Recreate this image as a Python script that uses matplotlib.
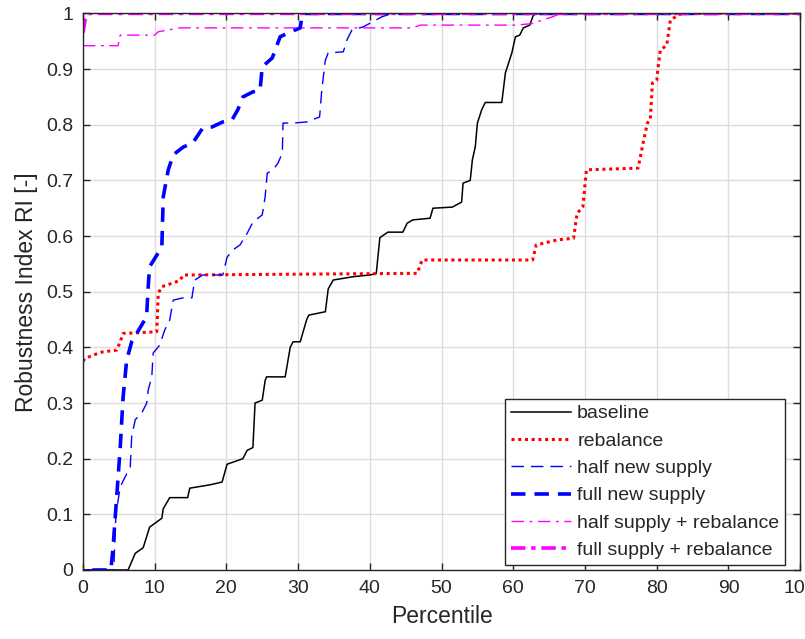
import matplotlib.pyplot as plt

plt.rcParams['font.family'] = ['Liberation Sans', 'DejaVu Sans']

# percentile / robustness index pairs for each scenario
baseline_x = [0, 6.3, 7.3, 8.4, 9.3, 11.0, 11.2, 12.1, 14.6, 14.9, 17.7, 19.4, 20.1, 22.3, 22.9,
              23.7, 24.0, 25.0, 25.4, 25.6, 28.2, 28.9, 29.3, 30.3, 31.2, 31.5, 33.8, 34.2, 34.9,
              37.7, 40.0, 40.9, 41.4, 42.5, 44.6, 45.2, 46.0, 48.4, 48.8, 51.5, 52.8, 53.0, 54.0,
              54.3, 54.7, 55.0, 55.6, 56.1, 58.4, 58.9, 59.8, 60.3, 60.9, 61.4, 62.3, 62.8, 63.5, 100]
baseline_y = [0, 0, 0.03, 0.04, 0.077, 0.093, 0.11, 0.13, 0.13, 0.147, 0.153, 0.158, 0.19, 0.2, 0.215,
              0.22, 0.30, 0.305, 0.34, 0.347, 0.347, 0.40, 0.41, 0.41, 0.45, 0.458, 0.464, 0.505, 0.521,
              0.527, 0.53, 0.533, 0.597, 0.607, 0.607, 0.623, 0.629, 0.632, 0.65, 0.652, 0.661, 0.695, 0.70,
              0.737, 0.76, 0.803, 0.827, 0.84, 0.84, 0.893, 0.929, 0.958, 0.961, 0.974, 0.979, 0.997, 1.0, 1.0]

rebalance_x = [0, 0.3, 1.4, 2.8, 4.7, 5.2, 5.6, 10.3, 10.5, 11.0, 12.4, 13.5, 14.0, 46.6, 47.3,
               62.7, 63.2, 66.1, 68.4, 68.9, 69.7, 70.2, 77.4, 78.1, 78.7, 79.1, 79.4, 80.0, 80.2,
               80.5, 81.4, 81.9, 83.0, 83.5, 100]
rebalance_y = [0.375, 0.38, 0.386, 0.392, 0.395, 0.41, 0.425, 0.428, 0.497, 0.509, 0.515, 0.52, 0.53, 0.533, 0.557,
               0.557, 0.584, 0.593, 0.596, 0.641, 0.652, 0.719, 0.722, 0.767, 0.803, 0.809, 0.875, 0.88, 0.904,
               0.934, 0.943, 0.988, 0.997, 1.0, 1.0]

half_supply_x = [0, 4.3, 4.6, 5.2, 5.6, 6.6, 6.8, 7.3, 8.2, 8.9, 9.1, 9.6, 9.8, 10.7, 11.4, 12.1,
                 12.6, 14.0, 15.2, 15.3, 15.6, 16.7, 19.5, 20.1, 20.9, 21.9, 22.9, 23.7, 25.0, 25.4,
                 25.7, 26.5, 27.2, 27.8, 27.9, 29.3, 31.2, 33.0, 33.3, 33.8, 34.2, 36.3, 36.8, 37.5,
                 39.1, 41.7, 43.1, 100]
half_supply_y = [0, 0, 0.1, 0.149, 0.16, 0.185, 0.24, 0.27, 0.282, 0.3, 0.323, 0.347, 0.39, 0.404, 0.431, 0.449,
                 0.485, 0.489, 0.489, 0.498, 0.521, 0.53, 0.53, 0.562, 0.575, 0.584, 0.605, 0.625, 0.638, 0.67,
                 0.713, 0.719, 0.731, 0.749, 0.803, 0.803, 0.805, 0.814, 0.862, 0.916, 0.929, 0.931, 0.952, 0.97,
                 0.976, 0.994, 1.0, 1.0]

full_supply_x = [1.3, 3.9, 4.2, 4.7, 5.2, 5.6, 6.1, 6.8, 7.5, 8.6, 8.9, 9.1, 9.3, 11.0, 11.2, 11.9,
                 12.6, 14.0, 15.3, 16.7, 18.0, 19.5, 20.8, 21.6, 22.3, 23.7, 24.7, 25.0, 26.4, 26.8,
                 27.5, 28.6, 30.3, 30.5, 30.7, 100]
full_supply_y = [0, 0, 0.04, 0.13, 0.22, 0.31, 0.377, 0.41, 0.425, 0.449, 0.46, 0.509, 0.545, 0.58, 0.67, 0.719,
                 0.746, 0.76, 0.767, 0.794, 0.796, 0.805, 0.809, 0.827, 0.85, 0.859, 0.862, 0.904, 0.92, 0.934,
                 0.958, 0.965, 0.974, 0.992, 1.0, 1.0]

half_reb_x = [0, 4.9, 5.2, 10.0, 10.5, 13.5, 46.0, 47.0, 60.5, 62.8, 64.0, 65.5, 66.6, 100]
half_reb_y = [0.942, 0.942, 0.961, 0.961, 0.967, 0.974, 0.974, 0.979, 0.979, 0.982, 0.988, 0.994, 1.0, 1.0]

full_reb_x = [0, 0.3, 0.7, 100]
full_reb_y = [0.965, 0.988, 1.0, 1.0]

labels = ['baseline', 'rebalance', 'half new supply', 'full new supply',
          'half supply + rebalance', 'full supply + rebalance']

fig = plt.figure(figsize=(8.05, 6.39), dpi=100)
ax = fig.add_axes([0.103, 0.108, 0.891, 0.871])

ax.plot(baseline_x, baseline_y, color='black', lw=1.1, ls='-', label=labels[0])
ax.plot(rebalance_x, rebalance_y, color='red', lw=2.2, ls=(0, (1, 1.2)), label=labels[1])
ax.plot(half_supply_x, half_supply_y, color='blue', lw=1.0, ls=(0, (9, 5)), label=labels[2])
ax.plot(full_supply_x, full_supply_y, color='blue', lw=2.6, ls=(0, (4, 2.5)), label=labels[3])
ax.plot(half_reb_x, half_reb_y, color='magenta', lw=1.0, ls=(0, (9, 4, 2, 4)), label=labels[4])
ax.plot(full_reb_x, full_reb_y, color='magenta', lw=2.6, ls=(0, (4, 1.6, 1.2, 1.6)), label=labels[5])

ax.set_xlim(0, 100)
ax.set_ylim(0, 1)
ax.set_xticks(range(0, 101, 10))
ax.set_yticks([i / 10 for i in range(11)])
ax.set_yticklabels(['0', '0.1', '0.2', '0.3', '0.4', '0.5', '0.6', '0.7', '0.8', '0.9', '1'])
ax.grid(True, color='#dcdcdc', lw=1.0)
ax.set_axisbelow(True)
ax.tick_params(direction='in', length=5, width=1, colors='#262626', labelsize=14, pad=7,
               top=True, right=True)
for sp in ax.spines.values():
    sp.set_color('#262626')
    sp.set_linewidth(1.0)

ax.set_xlabel('Percentile', fontsize=16.5, color='#262626', labelpad=6)
ax.set_ylabel('Robustness Index RI [-]', fontsize=16.5, color='#262626', labelpad=6)

leg = ax.legend(loc='lower right', bbox_to_anchor=(0.979, 0.009), borderaxespad=0,
                fontsize=14, handlelength=3.1, handletextpad=0.3, labelspacing=0.5,
                borderpad=0.3, fancybox=False, framealpha=1, edgecolor='#262626')
leg.get_frame().set_linewidth(1.0)
for t in leg.get_texts():
    t.set_color('#262626')

fig.savefig('out.png', dpi=100)
